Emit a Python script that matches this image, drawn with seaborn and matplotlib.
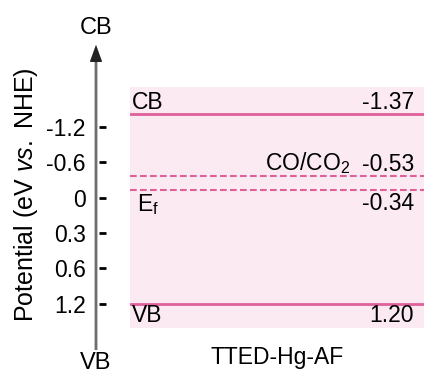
import numpy as np
import pandas as pd
import matplotlib
matplotlib.use("Agg")
import matplotlib.pyplot as plt
import seaborn as sns
from matplotlib.patches import FancyArrow

# ---- data ----
material = "TTED-Hg-AF"
band_names = ["CB", "VB"]
band_values = [-1.37, 1.20]
band_labels = ["-1.37", "1.20"]
redox_names = ["CO/CO$_2$", "E$_\\mathrm{f}$"]
redox_values = [-0.53, -0.34]
redox_labels = ["-0.53", "-0.34"]
tick_labels = ["-1.2", "-0.6", "0", "0.3", "0.6", "1.2"]

sns.set_theme(style="white")
plt.rcParams["font.family"] = ["Liberation Sans", "DejaVu Sans"]
plt.rcParams["mathtext.fontset"] = "custom"
plt.rcParams["mathtext.rm"] = "Liberation Sans"
plt.rcParams["mathtext.it"] = "Liberation Sans:italic"
for k in ["text.color", "axes.labelcolor", "xtick.color", "ytick.color"]:
    plt.rcParams[k] = "black"

W, H = 427, 380
fig = plt.figure(figsize=(W / 100, H / 100), dpi=100)
fig.patch.set_facecolor("white")

L, R, T, B = 130, 424, 87, 328
ax = fig.add_axes([L / W, 1 - B / H, (R - L) / W, (B - T) / H])
ax.set_facecolor("#FBEAF2")
for s in ax.spines.values():
    s.set_visible(False)
ax.spines["left"].set_position(("outward", 17))

line_color = "#E0609A"
fs = 16.5

df_band = pd.DataFrame({"x": [0, 1] * len(band_values),
                        "y": np.repeat(band_values, 2),
                        "name": np.repeat(band_names, 2)})
sns.lineplot(data=df_band, x="x", y="y", units="name", estimator=None,
             color=line_color, lw=2, ax=ax)
df_red = pd.DataFrame({"x": [0, 1] * len(redox_values),
                       "y": np.repeat(redox_values, 2),
                       "name": np.repeat(redox_names, 2)})
sns.lineplot(data=df_red, x="x", y="y", units="name", estimator=None,
             color=line_color, lw=1.5, ax=ax)
for ln in ax.lines[len(band_values):]:
    ln.set_linestyle((0, (3.2, 1.6)))

ax.set_xlim(0, 1)
ax.set_ylim(1.525, -1.735)

ax.set_yticks(np.linspace(-1.2, 1.2, len(tick_labels)))
ax.set_yticklabels(tick_labels)
ax.tick_params(axis="y", left=True, length=5, width=2, color="black", pad=10,
               direction="out", labelsize=fs, labelcolor="black")
ax.set_xticks([])
ax.set_ylabel("")
ax.set_xlabel(material, fontsize=fs, labelpad=13, color="black")

xl, xr = 0.008, 0.966
ax.text(xl, band_values[0], band_names[0], fontsize=fs, ha="left", va="bottom")
ax.text(xr, band_values[0], band_labels[0], fontsize=fs, ha="right", va="bottom")
ax.text(xl, band_values[1], band_names[1], fontsize=fs, ha="left", va="top")
ax.text(xr, band_values[1], band_labels[1], fontsize=fs, ha="right", va="top")
ax.text(0.748, redox_values[0], redox_names[0], fontsize=fs, ha="right", va="bottom")
ax.text(xr, redox_values[0], redox_labels[0], fontsize=fs, ha="right", va="bottom")
ax.text(0.024, redox_values[1] + 0.03, redox_names[1], fontsize=fs, ha="left", va="top")
ax.text(xr, redox_values[1] + 0.03, redox_labels[1], fontsize=fs, ha="right", va="top")

ax_x = 96 / W
arr = FancyArrow(ax_x, 1 - 350 / H, 0, (350 - 45) / H, width=2.5 / H,
                 head_width=12 / W, head_length=16 / H,
                 length_includes_head=True, transform=fig.transFigure,
                 color="#6E6E6E", ec="none")
fig.add_artist(arr)
head = FancyArrow(ax_x, 1 - 62 / H, 0, 17 / H, width=0.0001,
                  head_width=12 / W, head_length=17 / H,
                  length_includes_head=True, transform=fig.transFigure,
                  color="#222222", ec="none")
fig.add_artist(head)
fig.text(ax_x, 1 - 28 / H, "CB", fontsize=17, ha="center", va="center")
fig.text(ax_x, 1 - 363 / H, "VB", fontsize=17, ha="center", va="center")
fig.text(26 / W, 1 - 195 / H, "Potential (eV $\\mathit{vs.}$ NHE)", fontsize=18,
         rotation=90, ha="center", va="center")

fig.savefig("out.png", dpi=100)
